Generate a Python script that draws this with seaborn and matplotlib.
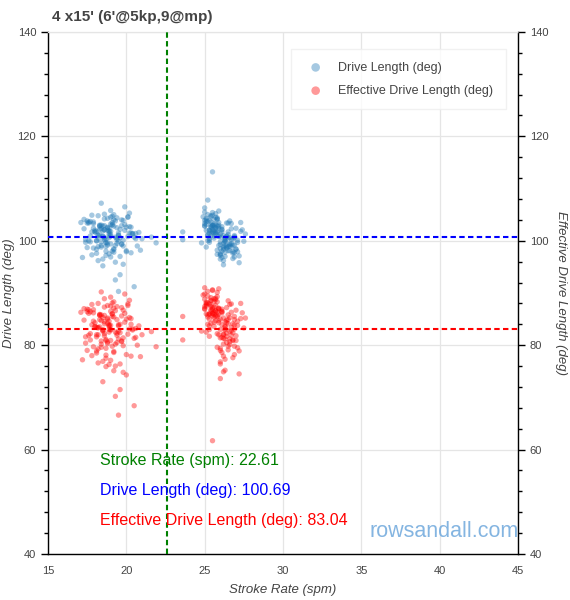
import matplotlib
matplotlib.use("Agg")
import matplotlib.pyplot as plt
import numpy as np
import pandas as pd
import seaborn as sns
from matplotlib.ticker import MultipleLocator

# ---- data -------------------------------------------------------------
title = "4 x15' (6'@5kp,9@mp)"
mean_spm = 22.61
mean_dl = 100.69
mean_edl = 83.04

# segment at ~19 spm
spm_a = [18.6, 21.0, 19.0, 18.2, 19.3, 20.1, 18.9, 17.5, 19.7, 18.5,
         17.5, 20.3, 18.1, 18.8, 19.8, 17.7, 19.2, 18.4, 20.9, 19.0,
         18.6, 17.1, 19.6, 18.9, 20.2, 18.3, 19.4, 17.6, 18.7, 19.1,
         20.6, 18.2, 19.9, 18.5, 17.9, 19.3, 18.0, 20.0, 18.8, 19.7,
         18.6, 17.4, 19.2, 18.1, 20.8, 19.5, 18.4, 19.0, 17.8, 18.7,
         20.4, 19.8, 19.6, 18.9, 19.4, 17.2, 20.1, 18.2, 18.3, 18.5,
         19.1, 17.6, 20.7, 18.8, 19.3, 18.0, 19.9, 18.6, 17.7, 19.2,
         20.5, 20.3, 18.9, 19.7, 17.3, 18.7, 19.0, 18.4, 18.3, 19.5,
         19.3, 19.8, 17.9, 18.1, 19.2, 20.0, 18.6, 19.4, 18.8, 19.5,
         19.0, 18.2, 20.2, 19.1, 18.7, 19.6, 17.8, 18.4, 18.5, 18.9]
dl_a = [102.1, 100.4, 103.2, 101.0, 99.1, 104.5, 101.8, 98.7, 102.9, 100.9,
        103.8, 101.5, 97.6, 102.6, 100.1, 99.8, 104.0, 102.3, 98.2, 101.2,
        100.6, 103.5, 97.0, 101.9, 105.3, 102.7, 99.5, 100.0, 98.9, 103.1,
        101.4, 104.8, 102.0, 96.5, 103.6, 100.7, 101.7, 97.9, 102.5, 99.3,
        104.2, 100.2, 102.8, 98.4, 101.6, 99.9, 103.0, 105.8, 97.3, 99.6,
        101.3, 103.9, 93.5, 102.4, 100.5, 96.8, 104.6, 101.1, 102.2, 100.8,
        98.0, 103.4, 99.0, 102.0, 95.9, 101.7, 106.5, 100.3, 103.7, 98.5,
        91.2, 102.6, 101.0, 99.4, 104.1, 97.2, 100.9, 98.8, 102.9, 101.5,
        92.5, 95.5, 103.3, 100.0, 105.0, 98.1, 102.1, 104.4, 99.2, 90.3,
        101.8, 96.2, 102.7, 103.0, 99.7, 100.6, 104.9, 107.2, 95.2, 101.4]
edl_a = [84.1, 82.0, 86.5, 83.3, 80.2, 87.9, 83.8, 79.0, 85.6, 82.7,
         86.9, 84.0, 78.5, 85.2, 81.4, 81.0, 87.1, 84.7, 77.8, 83.0,
         82.2, 86.3, 76.4, 83.9, 88.6, 85.9, 80.5, 81.9, 75.9, 86.0,
         83.2, 88.0, 84.4, 76.9, 86.8, 82.5, 83.6, 74.3, 85.0, 80.8,
         87.3, 81.6, 85.4, 78.9, 83.7, 81.2, 85.8, 89.2, 78.0, 79.4,
         83.1, 86.7, 71.5, 84.6, 82.3, 77.2, 87.6, 83.4, 84.9, 82.8,
         79.8, 86.1, 80.0, 84.2, 76.0, 83.5, 89.8, 81.8, 86.4, 75.1,
         68.4, 85.1, 83.0, 80.7, 87.0, 77.5, 82.9, 79.6, 85.7, 83.9,
         70.2, 74.8, 86.2, 82.0, 88.3, 78.2, 84.5, 87.4, 80.3, 66.6,
         83.8, 76.6, 85.3, 85.5, 80.9, 82.4, 87.8, 90.2, 73.0, 83.6]

spm_a2 = [18.3, 19.0, 17.6, 20.1, 18.8, 19.4, 17.9, 18.5, 19.9, 18.1,
          19.2, 18.6, 20.4, 17.4, 19.1, 18.9, 19.6, 18.2, 17.8, 19.3,
          18.7, 20.0, 18.4, 19.5, 17.5, 19.0, 18.0, 20.6, 18.8, 19.7,
          18.5, 17.7, 19.2, 18.3, 20.2, 18.9, 19.4, 17.3, 18.6, 19.8,
          18.1, 19.1, 20.5, 18.7, 17.9, 19.5, 18.4, 19.0, 18.2, 20.3]
dl_a2 = [101.2, 99.4, 103.6, 100.8, 104.3, 102.5, 98.6, 101.9, 103.1, 100.0,
         97.8, 102.9, 101.4, 99.7, 104.7, 100.6, 102.2, 98.9, 101.7, 103.8,
         100.3, 102.6, 99.1, 101.0, 103.4, 96.9, 102.0, 100.4, 99.6, 104.0,
         102.8, 100.9, 98.3, 103.0, 101.5, 97.5, 100.2, 102.3, 105.1, 99.0,
         101.8, 103.5, 100.7, 98.0, 102.4, 101.1, 99.8, 104.5, 100.5, 97.7]
edl_a2 = [83.5, 80.9, 86.8, 82.1, 87.6, 84.9, 79.7, 83.0, 86.1, 81.6,
          78.8, 85.7, 82.9, 80.4, 88.1, 82.5, 84.0, 79.3, 83.9, 86.6,
          81.1, 85.0, 80.2, 83.7, 86.4, 77.1, 84.3, 81.5, 80.6, 87.2,
          85.3, 82.2, 78.6, 85.8, 83.1, 76.3, 81.9, 84.8, 88.9, 79.9,
          83.4, 86.0, 81.3, 78.1, 84.6, 82.7, 80.8, 87.5, 82.0, 77.9]

# segment at ~26 spm
spm_b = [26.4, 25.1, 26.9, 25.6, 26.1, 25.0, 26.6, 25.4, 26.2, 25.7,
         27.1, 25.2, 26.0, 26.7, 25.5, 26.3, 24.9, 26.8, 25.9, 25.3,
         26.5, 27.3, 25.6, 26.1, 25.0, 26.4, 25.8, 26.9, 25.4, 26.2,
         25.1, 27.0, 25.7, 26.6, 25.5, 26.0, 27.4, 25.2, 26.3, 25.9,
         24.8, 26.7, 25.6, 26.5, 25.3, 26.1, 25.0, 25.8, 27.2, 26.4,
         25.7, 26.8, 25.4, 26.2, 25.9, 27.6, 25.1, 26.0, 26.6, 25.5,
         26.3, 25.2, 26.9, 25.8, 26.1, 25.3, 27.0, 25.6, 26.5, 25.0,
         26.2, 25.7, 26.7, 25.4, 26.0, 27.3, 25.9, 26.4, 25.1, 26.8,
         25.6, 26.3, 25.3, 26.1, 25.2, 25.8, 26.6, 25.5, 26.2, 27.5,
         26.9, 25.7, 26.0, 25.4, 26.5, 25.9, 27.1, 26.3, 25.3, 25.8]
dl_b = [103.4, 102.0, 99.2, 104.1, 98.0, 102.8, 100.6, 103.0, 98.6, 105.2,
        100.1, 103.7, 97.4, 102.3, 101.5, 99.8, 104.6, 97.9, 102.7, 100.4,
        101.2, 101.8, 100.9, 96.8, 103.9, 99.0, 104.4, 101.0, 102.6, 96.2,
        103.1, 98.4, 101.6, 99.3, 104.9, 97.5, 102.1, 100.0, 97.0, 105.7,
        99.6, 103.3, 101.9, 98.9, 101.4, 102.2, 106.3, 101.8, 95.8, 100.8,
        102.5, 97.6, 103.6, 99.5, 100.9, 101.3, 98.8, 96.5, 103.8, 102.9,
        100.2, 101.1, 96.9, 104.2, 100.7, 99.7, 102.4, 102.9, 98.1, 105.5,
        98.3, 101.4, 99.4, 102.7, 97.2, 103.5, 99.1, 98.6, 104.3, 100.3,
        100.5, 97.8, 102.0, 101.7, 107.8, 97.4, 99.0, 103.0, 95.4, 99.9,
        100.8, 103.2, 98.5, 101.0, 103.4, 102.4, 99.7, 100.5, 100.1, 98.2]
edl_b = [87.2, 86.0, 83.1, 88.4, 81.5, 86.9, 85.3, 87.7, 80.2, 89.0,
         84.6, 88.1, 79.4, 86.3, 86.8, 82.9, 89.6, 81.0, 87.0, 83.7,
         85.8, 85.1, 84.4, 78.6, 88.8, 82.3, 90.1, 84.9, 86.5, 77.9,
         87.5, 81.8, 85.6, 80.7, 90.5, 76.4, 86.2, 84.0, 75.2, 90.8,
         82.7, 87.9, 85.9, 79.8, 85.0, 86.4, 91.0, 85.7, 74.5, 84.8,
         86.6, 80.9, 88.6, 82.1, 84.3, 85.2, 82.5, 76.8, 87.8, 86.1,
         83.5, 85.4, 78.2, 89.3, 83.9, 83.0, 86.7, 88.9, 79.1, 89.8,
         81.3, 84.7, 82.8, 87.4, 73.6, 88.0, 82.0, 80.5, 88.2, 84.1,
         83.6, 77.3, 86.0, 86.9, 90.3, 79.6, 81.2, 87.1, 74.9, 83.3,
         85.5, 87.6, 79.0, 84.2, 88.5, 85.9, 83.8, 84.5, 81.7, 82.2]

spm_b2 = [25.6, 26.2, 25.1, 26.8, 25.9, 25.4, 26.5, 25.2, 26.0, 27.0,
          25.7, 26.3, 25.5, 26.9, 25.3, 26.1, 25.8, 26.6, 25.0, 26.4,
          25.9, 27.2, 25.4, 26.0, 25.6, 26.7, 25.2, 26.3, 25.8, 26.5,
          25.1, 26.2, 25.7, 26.9, 25.5, 26.0, 25.3, 26.6, 25.9, 27.1,
          25.6, 26.4, 25.0, 26.1, 25.4, 26.8, 25.8, 26.3, 25.5, 26.7]
dl_b2 = [102.6, 101.0, 104.0, 99.2, 103.5, 101.9, 100.5, 105.0, 99.8, 98.4,
         104.5, 100.0, 102.2, 97.7, 103.9, 102.7, 101.6, 99.5, 102.9, 98.7,
         100.8, 97.1, 104.8, 101.3, 103.2, 100.3, 101.1, 99.0, 104.1, 101.7,
         103.7, 98.9, 102.4, 100.6, 105.4, 99.3, 102.0, 98.1, 103.0, 97.9,
         101.5, 100.9, 103.3, 102.1, 104.6, 96.6, 102.8, 99.9, 101.8, 98.8]
edl_b2 = [86.3, 85.2, 88.0, 82.4, 87.1, 86.8, 84.1, 89.4, 83.0, 80.9,
          88.7, 83.6, 86.0, 79.8, 87.9, 86.2, 85.5, 82.6, 87.4, 81.7,
          84.7, 78.9, 89.1, 85.0, 87.3, 83.4, 85.8, 81.2, 88.3, 84.9,
          87.8, 82.0, 86.6, 83.9, 90.6, 81.4, 85.9, 80.1, 86.9, 79.5,
          85.3, 84.3, 87.0, 86.5, 88.5, 77.6, 86.4, 83.1, 85.6, 81.9]

# transition / outlier strokes
spm_x = [21.6, 21.9, 23.6, 23.6, 25.5]
dl_x = [100.7, 99.6, 101.7, 100.2, 113.2]
edl_x = [82.6, 79.7, 85.5, 81.0, 61.7]

df = pd.DataFrame({
    "spm": spm_a + spm_a2 + spm_b + spm_b2 + spm_x,
    "dl": dl_a + dl_a2 + dl_b + dl_b2 + dl_x,
    "edl": edl_a + edl_a2 + edl_b + edl_b2 + edl_x,
})

# ---- style ------------------------------------------------------------
sns.set_style("white")
plt.rcParams['font.family'] = ['Liberation Sans', 'DejaVu Sans']
txt = '#444444'

fig = plt.figure(figsize=(5.7, 6.0), dpi=100)
ax = fig.add_axes([0.0842, 0.0767, 0.8246, 0.87])

sns.scatterplot(data=df, x="spm", y="dl", ax=ax, color='#1f77b4', alpha=0.4,
                s=15, edgecolor='none', label='Drive Length (deg)', zorder=3)
sns.scatterplot(data=df, x="spm", y="edl", ax=ax, color='#ff0000', alpha=0.4,
                s=15, edgecolor='none', label='Effective Drive Length (deg)', zorder=3)

dash = (0, (2.6, 1.6))
ax.axvline(mean_spm, color='green', lw=1.5, ls=dash, zorder=4)
ax.axhline(mean_dl, color='blue', lw=1.5, ls=dash, zorder=4)
ax.axhline(mean_edl, color='red', lw=1.5, ls=dash, zorder=4)

ax.set_xlim(15, 45)
ax.set_ylim(40, 140)
ax.xaxis.set_major_locator(MultipleLocator(5))
ax.xaxis.set_minor_locator(MultipleLocator(1))
ax.yaxis.set_major_locator(MultipleLocator(20))
ax.yaxis.set_minor_locator(MultipleLocator(4))
ax.grid(True, which='major', color='#e5e5e5', lw=0.9, zorder=0)
ax.set_axisbelow(True)

for side in ['left', 'bottom', 'right']:
    ax.spines[side].set_color('black')
    ax.spines[side].set_linewidth(1.0)
ax.spines['top'].set_color('#e5e5e5')
ax.spines['top'].set_linewidth(0.9)

ax.tick_params(axis='both', which='major', direction='out', length=5, width=1,
               colors='black', labelcolor=txt, labelsize=8)
ax.tick_params(axis='both', which='minor', direction='out', length=3, width=1,
               colors='black')

ax.set_xlabel('Stroke Rate (spm)', fontsize=9.5, style='italic', color=txt,
              labelpad=6)
ax.set_ylabel('Drive Length (deg)', fontsize=9.5, style='italic', color=txt,
              labelpad=2)

ax2 = ax.twinx()
ax2.set_ylim(40, 140)
ax2.yaxis.set_major_locator(MultipleLocator(20))
ax2.yaxis.set_minor_locator(MultipleLocator(4))
ax2.tick_params(axis='y', which='major', direction='out', length=5, width=1,
                colors='black', labelcolor=txt, labelsize=8)
ax2.tick_params(axis='y', which='minor', direction='out', length=3, width=1,
                colors='black')
for s in ax2.spines.values():
    s.set_visible(False)
ax2.set_ylabel('Effective Drive Length (deg)', fontsize=9.5, style='italic',
               color=txt, rotation=270, labelpad=13)

leg = ax.legend(loc='upper right', bbox_to_anchor=(0.987, 0.979), fontsize=9,
                frameon=True, fancybox=False, edgecolor='#eeeeee',
                borderpad=1.0, labelspacing=0.9, handletextpad=0.8,
                markerscale=1.6)
leg.get_frame().set_linewidth(1.0)
for t in leg.get_texts():
    t.set_color(txt)

ax.text(18.3, 57.9, f'Stroke Rate (spm): {mean_spm:.2f}', color='green',
        fontsize=11.5, va='center', ha='left', zorder=5)
ax.text(18.3, 52.1, f'Drive Length (deg): {mean_dl:.2f}', color='blue',
        fontsize=11.5, va='center', ha='left', zorder=5)
ax.text(18.3, 46.5, f'Effective Drive Length (deg): {mean_edl:.2f}', color='red',
        fontsize=11.5, va='center', ha='left', zorder=5)

ax.text(35.5, 44.4, 'rowsandall.com', color='#6fa8dc', alpha=0.85,
        fontsize=15.5, va='center', ha='left', zorder=2)

fig.text(52 / 570, 1 - 17 / 600, title, fontsize=11, fontweight='bold',
         color=txt, va='center', ha='left')

fig.savefig('out.png', dpi=100)
